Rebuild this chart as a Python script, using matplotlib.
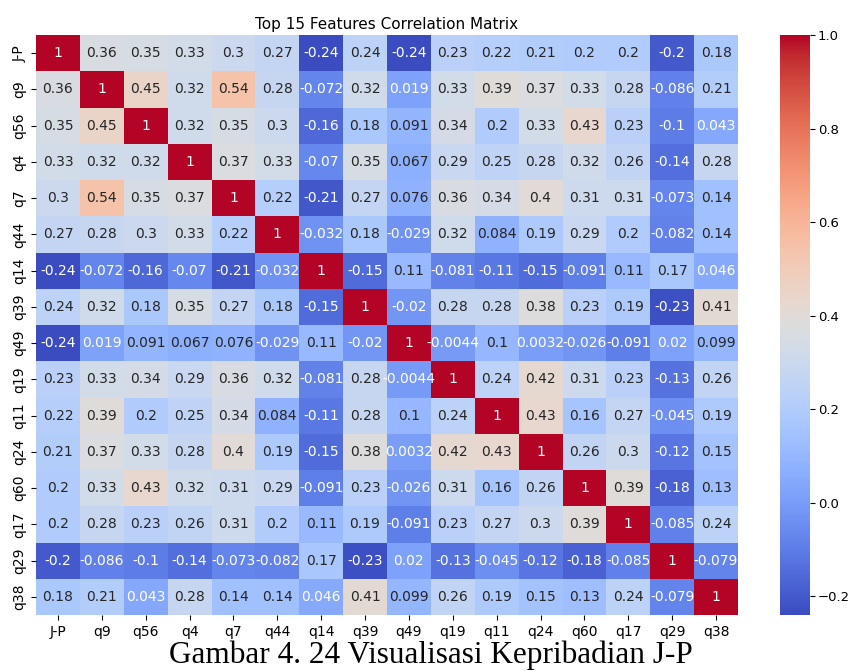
import numpy as np
import pandas as pd
import matplotlib
matplotlib.use("Agg")
import matplotlib.pyplot as plt
import seaborn as sns

labels = ["J-P", "q9", "q56", "q4", "q7", "q44", "q14", "q39", "q49", "q19",
          "q11", "q24", "q60", "q17", "q29", "q38"]

row_jp  = [1, .36, .35, .33, .3, .27, -.24, .24, -.24, .23, .22, .21, .2, .2, -.2, .18]
row_q9  = [.36, 1, .45, .32, .54, .28, -.072, .32, .019, .33, .39, .37, .33, .28, -.086, .21]
row_q56 = [.35, .45, 1, .32, .35, .3, -.16, .18, .091, .34, .2, .33, .43, .23, -.1, .043]
row_q4  = [.33, .32, .32, 1, .37, .33, -.07, .35, .067, .29, .25, .28, .32, .26, -.14, .28]
row_q7  = [.3, .54, .35, .37, 1, .22, -.21, .27, .076, .36, .34, .4, .31, .31, -.073, .14]
row_q44 = [.27, .28, .3, .33, .22, 1, -.032, .18, -.029, .32, .084, .19, .29, .2, -.082, .14]
row_q14 = [-.24, -.072, -.16, -.07, -.21, -.032, 1, -.15, .11, -.081, -.11, -.15, -.091, .11, .17, .046]
row_q39 = [.24, .32, .18, .35, .27, .18, -.15, 1, -.02, .28, .28, .38, .23, .19, -.23, .41]
row_q49 = [-.24, .019, .091, .067, .076, -.029, .11, -.02, 1, -.0044, .1, .0032, -.026, -.091, .02, .099]
row_q19 = [.23, .33, .34, .29, .36, .32, -.081, .28, -.0044, 1, .24, .42, .31, .23, -.13, .26]
row_q11 = [.22, .39, .2, .25, .34, .084, -.11, .28, .1, .24, 1, .43, .16, .27, -.045, .19]
row_q24 = [.21, .37, .33, .28, .4, .19, -.15, .38, .0032, .42, .43, 1, .26, .3, -.12, .15]
row_q60 = [.2, .33, .43, .32, .31, .29, -.091, .23, -.026, .31, .16, .26, 1, .39, -.18, .13]
row_q17 = [.2, .28, .23, .26, .31, .2, .11, .19, -.091, .23, .27, .3, .39, 1, -.085, .24]
row_q29 = [-.2, -.086, -.1, -.14, -.073, -.082, .17, -.23, .02, -.13, -.045, -.12, -.18, -.085, 1, -.079]
row_q38 = [.18, .21, .043, .28, .14, .14, .046, .41, .099, .26, .19, .15, .13, .24, -.079, 1]

rows = [row_jp, row_q9, row_q56, row_q4, row_q7, row_q44, row_q14, row_q39,
        row_q49, row_q19, row_q11, row_q24, row_q60, row_q17, row_q29, row_q38]
corr = pd.DataFrame(np.array(rows), index=labels, columns=labels)

title = "Top 15 Features Correlation Matrix"
caption = "Gambar 4. 24 Visualisasi Kepribadian J-P"

fig = plt.figure(figsize=(8.52, 6.71), dpi=100)
ax = fig.add_axes([36/852, 1 - 615/671, (738-36)/852, (615-35)/671])
cax = fig.add_axes([780/852, 1 - 615/671, 30/852, (615-35)/671])
sns.heatmap(corr, annot=True, cmap="coolwarm", fmt=".2g", ax=ax, cbar_ax=cax,
            annot_kws={"size": 10})
ax.set_title(title, fontsize=11, pad=4)
ax.tick_params(labelsize=10)
cax.tick_params(labelsize=9.5, pad=2)
fig.text(431/852, 1 - 655/671, caption, ha="center", va="center",
         fontsize=22.5, family="Liberation Serif")

fig.savefig("out.png", dpi=100)
